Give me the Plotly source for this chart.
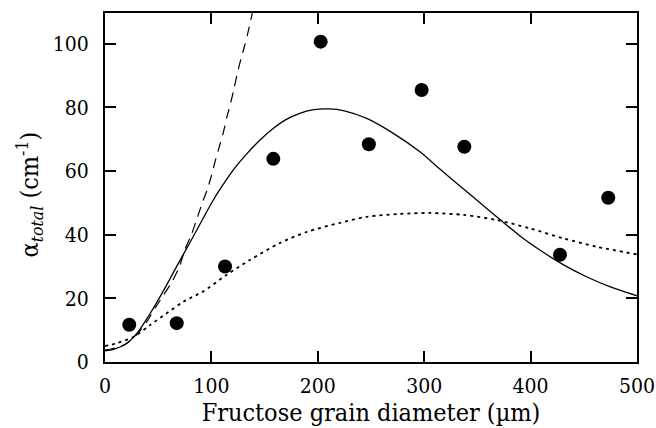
import plotly.graph_objects as go

# measured data points
pts_x = [22.8, 67.4, 112.8, 158.2, 202.7, 248.0, 297.6, 337.7, 427.6, 473.0]
pts_y = [11.7, 12.2, 30.0, 63.8, 100.6, 68.4, 85.4, 67.6, 33.7, 51.6]

# solid model curve
solid_x = [0, 5, 10, 19, 30, 42, 55, 67, 80, 92, 101, 110, 121, 133, 146, 158, 170, 183, 195, 210,
           225, 246, 271, 296, 315, 337, 356, 371, 390, 409, 431, 453, 475, 500]
solid_y = [3.5, 3.7, 4.2, 5.5, 9.0, 15.0, 22.4, 29.8, 37.6, 45.0, 50.4, 55.2, 60.5, 65.3, 69.8, 73.3, 76.1,
           78.1, 79.2, 79.5, 78.9, 76.5, 71.8, 66.0, 60.5, 54.3, 49.0, 44.8, 39.6, 35.1, 30.5, 26.7, 23.6, 20.8]

# dashed model curve
dash_x = [0, 5, 12, 20, 30, 40, 47, 55, 63, 70, 75, 81, 86, 92, 96, 100, 103, 108, 111, 115, 118, 121, 124, 128,
          131, 134, 137, 140]
dash_y = [3.8, 4.0, 4.6, 5.8, 8.6, 13.0, 16.9, 21.0, 25.2, 30.0, 35.2, 39.8, 44.6, 50.5, 54.0, 58.5, 62.4, 68.3,
          71.8, 77.5, 81.2, 85.5, 90.1, 95.5, 99.0, 103.0, 107.4, 112.0]

# dotted model curve
dot_x = [0, 10, 27, 42, 58, 74, 92, 114, 136, 164, 190, 221, 246, 277, 305, 337, 368, 399, 431, 462, 500]
dot_y = [5.0, 5.8, 7.9, 11.5, 15.3, 19.0, 22.1, 27.3, 32.0, 37.3, 40.9, 43.7, 45.6, 46.5, 46.8, 46.2, 44.6,
         42.0, 38.8, 36.2, 33.8]

x_ticks = [0, 100, 200, 300, 400, 500]
y_ticks = [0, 20, 40, 60, 80, 100]

FONT = "DejaVu Serif Condensed, DejaVu Serif"

fig = go.Figure()
fig.add_trace(go.Scatter(x=solid_x, y=solid_y, mode="lines", line=dict(color="black", width=1.3, shape="spline", smoothing=0.8)))
fig.add_trace(go.Scatter(x=dash_x, y=dash_y, mode="lines", line=dict(color="black", width=1.2, dash="10px,7px", shape="spline", smoothing=0.8)))
fig.add_trace(go.Scatter(x=dot_x, y=dot_y, mode="lines", line=dict(color="black", width=1.8, dash="3px,4px", shape="spline", smoothing=0.8)))
fig.add_trace(go.Scatter(x=pts_x, y=pts_y, mode="markers", marker=dict(color="black", size=14), cliponaxis=False))

fig.update_layout(
    width=656, height=428,
    margin=dict(l=105, r=19, t=13, b=66),
    paper_bgcolor="white", plot_bgcolor="white",
    showlegend=False,
    font=dict(family=FONT, color="black", size=21),
)
fig.update_xaxes(
    range=[0, 500], tickvals=x_ticks, ticktext=[str(v) for v in x_ticks],
    ticks="inside", ticklen=11, tickwidth=2, tickcolor="black",
    showline=True, linewidth=2, linecolor="black", mirror="ticks",
    showgrid=False, zeroline=False, ticklabelstandoff=4, automargin=False,
    tickfont=dict(family=FONT, size=21),
    title=dict(text="Fructose grain diameter (µm)", font=dict(family=FONT, size=25), standoff=6),
)
fig.update_yaxes(
    range=[0, 109.6], tickvals=y_ticks, ticktext=[str(v) for v in y_ticks],
    ticks="inside", ticklen=11, tickwidth=2, tickcolor="black",
    showline=True, linewidth=2, linecolor="black", mirror="ticks",
    showgrid=False, zeroline=False, ticklabelstandoff=10, automargin=False,
    tickfont=dict(family=FONT, size=21),
)
fig.add_annotation(
    text="α<sub><i>total</i></sub> (cm<sup>-1</sup>)",
    xref="paper", yref="paper", x=-0.141, y=0.48, textangle=-90,
    showarrow=False, xanchor="center", yanchor="middle",
    font=dict(family=FONT, size=25, color="black"),
)
fig.write_html("out.html")
